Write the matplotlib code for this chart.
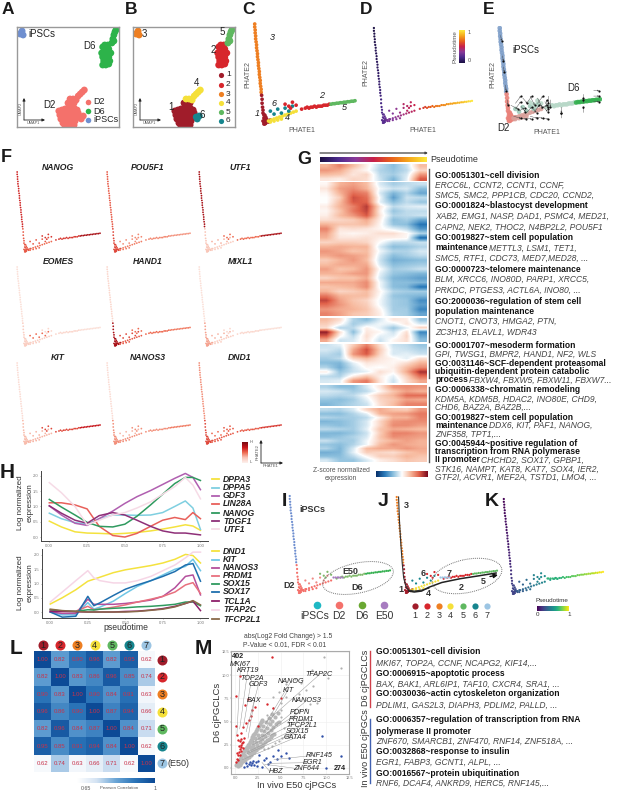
import numpy as np
import matplotlib
matplotlib.use("Agg")
import matplotlib.pyplot as plt
from matplotlib.colors import LinearSegmentedColormap
from matplotlib.patches import Ellipse

plt.rcParams["font.family"] = ["Liberation Sans", "DejaVu Sans"]
W, H = 617, 791

# --- UMAP cells (A, B) ---
umap_x = [4, 5, 3, 6,
          41, 44, 47, 50, 53, 56, 59, 42, 45, 48, 51, 54, 57, 60, 43, 46, 49, 52, 55, 58, 61, 45, 48, 51, 54, 57, 47, 50, 53, 56, 50, 53, 56,
          52, 55, 58, 60, 62, 64, 66,
          62, 65, 63,
          84, 87, 90, 83, 86, 89, 92, 84, 87, 90, 85, 88, 91, 86, 89, 84, 87, 90,
          94, 95, 96, 97, 93, 95,
          ]
umap_y = [94, 96, 93, 92,
          16, 17, 18, 19, 19, 19, 17, 12, 12, 13, 14, 13, 13, 14, 8, 8, 8, 9, 8, 9, 10, 4, 4, 5, 5, 6, 1, 1, 2, 2, 24, 25, 24,
          28, 28, 27, 31, 33, 35, 37,
          10, 11, 8,
          80, 80, 78, 74, 74, 74, 74, 70, 70, 70, 66, 66, 66, 82, 82, 62, 62, 63,
          88, 92, 95, 97, 84, 86,
          ]
umap_day = ["iPSCs"] * 4 + ["D2"] * 33 + ["D2"] * 7 + ["D2"] * 3 + ["D6"] * 18 + ["D6"] * 6
umap_cluster = [3] * 4 + [1] * 33 + [4] * 7 + [6] * 3 + [2] * 18 + [5] * 6

# --- PHATE cells (C, D, E, F, I, J, K) ---
phate_x = [-9, -9, -8.5, -8.5, -8, -8, -7.5, -7, -7, -6.5, -6, -6, -5.5, -5, -5, -4.5, -4, -4, -3.5, -3, -3, -2.5, -2, -2,
           -1.5, -1, -1, -.5, 0, 0, 1, 1, 2, 2, 3, 3, 4, 0, 1, 2, 3, 4, 5, 1, 2, 3, 6, 8,
           6, 9, 12, 15, 18, 21, 24, 27, 30, 33, 36, 8, 12, 16, 20,
           8, 12, 16, 20, 24, 28, 32,
           24, 28, 32, 30, 36, 42, 46, 48, 50, 52, 54, 56, 58, 60, 62, 64, 66, 68, 70, 72,
           74, 76, 78, 80, 82, 84, 86, 88, 90, 92, 94, 96, 98, 100]
phate_y = [100, 97, 94, 91, 88, 85, 82, 79, 76, 73, 70, 67, 64, 61, 58, 55, 52, 49, 46, 43, 40, 37, 34, 31,
           28, 24, 20, 16, 13, 10, 8, 5, 8, 4, 6, 2, 4, 2, 1, 1, 0, 2, 2, -1, -1, 0, 1, 3,
           2, 3, 4, 5, 6, 7, 8, 9, 10, 11, 12, 1, 2, 3, 4,
           12, 9, 14, 10, 15, 12, 17,
           19, 17, 21, 15, 18, 14, 15, 16, 15, 16, 16, 17, 16, 17, 17, 17, 18, 18, 18, 19,
           19, 19.5, 19.5, 20, 20, 20.5, 20.5, 21, 21, 21.5, 21.5, 22, 22, 22.5]
phate_cluster = [3] * 24 + [1] * 24 + [4] * 15 + [6] * 7 + [2] * 20 + [5] * 14
phate_time = [.0, .0, .01, .01, .02, .02, .03, .03, .04, .04, .05, .05, .06, .06, .07, .07, .08, .08, .09, .09, .1, .1, .11, .12,
              .13, .14, .15, .16, .17, .18, .2, .2, .2, .2, .22, .22, .22, .2, .2, .2, .2, .22, .25, .2, .2, .2, .25, .28,
              .3, .32, .33, .35, .36, .38, .4, .42, .44, .45, .47, .28, .3, .33, .36,
              .3, .32, .35, .38, .42, .45, .48,
              .45, .45, .47, .47, .5, .55, .58, .6, .62, .64, .66, .68, .7, .71, .72, .74, .75, .76, .77, .78,
              .8, .81, .82, .83, .85, .86, .87, .88, .9, .92, .94, .96, .98, 1.0]
e50_x = [38, 40, 42, 44, 46, 48]
e50_y = [15.5, 15.5, 15.5, 15.5, 15.5, 15.5]

# --- E velocity arrows ---
vel_x = [-8, -6, -5, -3, -1, 3, 8, 12, 16, 20, 24, 28, 32, 36, 40, 6, 12, 18, 24, 30, 36, 42, 46, 58, 58, 82, 82, 82, 93, 93, 93, 44, 44, 8, 14, 20, 26, 32, 38]
vel_y = [92, 70, 58, 38, 22, 16, 18, 10, 24, 8, 26, 8, 24, 12, 20, 4, 2, 2, 4, 3, 2, 14, 22, 14, 2, 28, 18, 8, 32, 26, 20, 26, 8, 12, 15, 18, 14, 18, 15]
vel_dx = [1, 1, 1, 1, 1, 8, 6, 6, 5, 6, 5, 6, 5, 6, 4, 8, 8, 8, 8, 8, 8, 0, 0, 0, 0, 0, 0, 0, 6, 6, 6, 0, 0, 6, 5, 6, 5, 6, 5]
vel_dy = [-6, -6, -6, -6, -6, -4, 8, 3, -6, 6, -10, 8, -10, 4, -8, -2, -1, -1, -2, -1, -1, 8, -8, -6, 6, -6, 6, 6, 0, 0, 0, -8, 6, 8, -6, 8, -6, 8, -6]

# --- F cluster mean expression (cluster 1..6) ---
f_genes = ["NANOG", "POU5F1", "UTF1", "EOMES", "HAND1", "MIXL1", "KIT", "NANOS3", "DND1"]
f_levels = [[.55, .65, .7, .5, .85, .55],
            [.6, .42, .55, .45, .38, .4],
            [.25, .5, .85, .2, .85, .3],
            [.2, .15, .1, .2, .1, .5],
            [.85, .5, .15, .55, .45, .6],
            [.35, .15, .1, .2, .1, .3],
            [.28, .6, .12, .3, .75, .3],
            [.4, .4, .12, .4, .45, .3],
            [.6, .55, .4, .55, .65, .5]]

# --- G heatmap blocks ---
g_block_a = [[.9, 1.4, .8, .2, -.5, -.9, -.4, .8],
             [1.2, 1.0, .4, .1, -.6, -.8, -.5, .5],
             [.8, .7, .3, .5, -.5, -.7, -.3, 1.2],
             [.3, .2, .5, .4, -.4, -1.0, -.2, 1.8]]
g_block_b = [[.1, .9, 1.1, .8, -.3, -.7, -.5, -.4],
             [.3, 1.1, 1.3, .9, -.1, -.4, -.3, -.9],
             [.1, .9, 1.6, 1.4, -.3, -1.0, -.6, -1.2],
             [.0, .6, 1.9, 1.6, -.1, -1.3, -.4, -.5],
             [.0, .8, 1.8, 1.7, -.2, -.9, -.5, -.8],
             [.2, .9, 1.4, 2.1, .3, -.5, -.3, -.2],
             [.1, .7, 1.5, 2.0, .2, -.8, -.5, -.5],
             [.2, .8, 1.2, 1.8, .3, -.6, -.5, -.4],
             [.4, .5, .6, 1.0, .2, -.9, -.7, -1.2],
             [.9, .7, .7, .8, .1, -.8, -.9, -1.8],
             [1.4, .3, .4, .3, .1, -.2, -.5, -1.4],
             [1.1, .2, .1, .2, .4, .4, .1, -.6],
             [.9, .3, .3, .4, .2, .2, .1, -1.9],
             [.5, .6, .6, .5, .0, -.5, -.5, -.4],
             [.9, 1.0, .9, .9, -.3, -.9, -.8, -.6],
             [1.2, 1.0, .7, .8, -.1, -.6, -.6, -.3],
             [1.0, 1.2, 1.1, .9, -.3, -.9, -.7, -.5],
             [.6, .9, 1.2, .8, -.4, -1.1, -1.0, -.9],
             [.8, 1.0, 1.0, 1.0, -.3, -.9, -.8, -.7],
             [1.1, .7, .8, 1.2, .0, -.7, -.6, -.4],
             [.9, .9, 1.1, 1.2, -.2, -.8, -.9, -1.0],
             [.5, .7, .7, 1.0, -.3, -1.0, -1.1, -1.3],
             [1.0, 1.0, 1.0, 1.3, -.1, -.9, -.9, -1.0],
             [.7, .8, .9, 1.3, -.1, -.9, -1.0, -1.8],
             [.9, .5, .6, .8, .1, -.6, -.7, -.7],
             [1.5, .9, .8, .8, .0, -.8, -.9, -1.0],
             [2.0, 1.1, .7, .5, -.1, -.7, -.8, -1.5],
             [1.6, 1.2, .8, .6, -.1, -.7, -.8, -1.3],
             [1.2, 1.0, .9, .7, .1, -.7, -.7, -1.6],
             [1.4, 1.1, .7, .6, .2, -.6, -.7, -1.2]]
g_block_c = [[.8, .4, -.6, -.9, -.3, .3, .2, -.8],
             [.6, .1, -.7, -.4, -.1, -.2, .3, -.3],
             [.4, -.6, -.5, .2, -.2, -.8, -.2, .6],
             [2.4, .4, -.9, .3, .1, -.4, .4, -1.6],
             [1.8, .1, -.5, .4, -.2, -.2, .5, -1.2],
             [1.0, -.4, -.3, .3, -.4, .1, .4, -.9]]
g_block_d = [[-.4, -.2, .6, 1.4, .4, -.4, -.5, -.8],
             [-.3, -.5, 1.0, 1.9, .6, -.3, -.4, -.6],
             [-.5, -.7, 1.2, 1.8, .5, -.3, -.2, -.4],
             [-.7, -.5, .5, .8, .3, .1, -.2, .4],
             [-.9, -1.0, -.2, .3, .2, .1, .4, .9],
             [-.6, -1.1, -.4, .1, .0, .2, .8, 1.3],
             [.2, -.8, -.4, -.2, .4, .1, 1.0, 2.2],
             [-.5, -.6, .2, .7, .2, -.2, .6, 1.6],
             [-.3, -.2, 1.2, 1.5, .3, -.4, .4, 1.0]]
g_block_e = [[-.6, -.9, -.9, -.3, .3, 1.2, 1.3, 1.2],
             [-.3, -.4, -.7, -.5, .1, .7, 1.1, .9],
             [-.5, -.6, -.5, .0, .6, .9, 1.6, 1.6],
             [-.8, -.9, -.7, -.2, .5, .7, 1.1, 1.0],
             [-1.0, -.8, -.6, -.4, .4, .8, 1.4, 1.4]]
g_block_f = [[-.5, -.6, -.3, .5, 1.0, .7, .6, 1.2],
             [-.9, -.9, -.6, -.2, .9, 1.1, 1.2, 1.5],
             [-.6, -.7, -.7, -.5, .2, .9, .9, 1.4],
             [-1.0, -.9, -.7, -.3, .5, 1.2, 1.3, 1.3],
             [-.8, -.9, -.7, -.3, .5, 1.3, 1.3, 1.1],
             [-.5, -.6, -.7, -.2, .7, 1.0, .9, .8],
             [-1.0, -1.0, -.8, -.4, .6, 1.4, 1.4, 1.2],
             [-.9, -.8, -.6, -.3, .7, 1.3, 1.2, 1.1],
             [-.4, -.7, -.7, -.1, .6, .9, 1.1, .9],
             [-.8, -.9, -.6, -.1, .8, 1.2, 1.0, .9],
             [-.6, -1.0, -.3, .8, 1.0, 1.0, 1.2, 1.0],
             [-1.1, -1.0, -.2, .6, .5, .4, .7, .9],
             [-.9, -.9, -.5, .1, .6, .6, .9, .7],
             [-.3, -.8, -.8, -.3, .2, .4, .7, .6]]

# --- H curves ---
h1_t = [0, .08, .17, .25, .33, .42, .5, .58, .67, .75, .83, .9, .95, 1]
h1_names = ["DPPA3", "DPPA5", "GDF3", "LIN28A", "NANOG", "TDGF1", "UTF1"]
h1_values = [[.52, .33, .17, .13, .12, .10, .12, .15, .2, .26, .33, .40, .36, .22],
             [.78, .6, .47, .42, .6, .72, .72, .71, .72, .8, 1.0, 1.18, .95, .25],
             [1.02, .72, .45, .38, .6, .85, 1.1, 1.32, 1.52, 1.72, 1.92, 2.08, 1.95, 1.55],
             [1.12, 1.12, 1.05, .92, .35, .05, .0, .12, .35, .55, .64, .57, .80, .6],
             [1.23, .98, .72, .48, .35, .33, .42, .68, 1.05, 1.4, 1.75, 1.95, 1.95, 1.85],
             [1.02, .78, .55, .45, .7, .8, .72, .55, .35, .2, .13, .13, .1, .07],
             [1.78, 1.45, 1.0, .4, .55, .72, .8, .95, 1.15, 1.4, 1.65, 1.95, 1.7, 1.25]]
h1_colors = ["#f4e23e", "#7fcfe0", "#b05fb0", "#e8605a", "#2f9a5f", "#8e2f78", "#f6dbe6"]
h2_t = [0, .08, .17, .25, .29, .33, .42, .5, .58, .67, .75, .83, .9, .95, 1]
h2_names = ["DND1", "KIT", "NANOS3", "PRDM1", "SOX15", "SOX17", "TCL1A", "TFAP2C", "TFCP2L1"]
h2_values = [[.28, .5, .78, 1.08, 1.15, 1.22, 1.38, 1.48, 1.55, 1.63, 1.72, 1.85, 2.02, 1.98, 1.72],
             [.0, -.1, -.1, .33, .1, .17, .38, .65, .9, 1.1, 1.3, 1.5, 1.6, 1.85, 1.45],
             [.0, -.05, -.05, .45, .27, .27, .27, .3, .35, .42, .55, .85, 1.25, 1.3, .6],
             [.05, .02, .03, .2, .08, .1, .17, .25, .35, .45, .55, .7, .95, 1.03, .65],
             [.08, .03, .02, .08, .07, .1, .13, .15, .18, .2, .23, .27, .35, .35, .22],
             [.0, -.18, -.15, .55, .22, .32, .58, .8, .95, 1.1, 1.25, 1.42, 1.65, 1.7, 1.08],
             [.02, .02, .01, .0, .0, .0, .0, .02, .03, .07, .12, .2, .3, .38, .05],
             [.35, .7, 1.1, 1.45, 1.2, 1.1, 1.02, 1.02, 1.1, 1.25, 1.45, 1.65, 1.9, 2.1, 2.1],
             [.1, .05, .02, .0, .0, .0, .0, .0, .02, .06, .1, .18, .3, .4, .25]]
h2_colors = ["#f4e23e", "#6fc6e6", "#b44f9c", "#e8707e", "#2f9a5f", "#1f6fae", "#8e1f6a", "#f6d6e6", "#8a6a4a"]

# --- L correlations ---
l_values = [[1.00, .82, .90, .96, .82, .95, .62],
            [.82, 1.00, .83, .86, .96, .85, .74],
            [.90, .83, 1.00, .90, .84, .91, .63],
            [.96, .86, .90, 1.00, .87, .94, .66],
            [.82, .96, .84, .87, 1.00, .84, .71],
            [.95, .85, .91, .94, .84, 1.00, .62],
            [.62, .74, .63, .66, .71, .62, 1.00]]
cluster_colors = ["#a01c2a", "#d7262c", "#ee7f22", "#f5e03a", "#5fb860", "#16858e", "#9cc5e3"]

# --- M scatter ---
dense_x = [.1, .2, .3, .4, .5, .6, .7, .8, .9, 1.0, 1.1, 1.2, 1.3, 1.4, 1.5, 1.6, 1.7, 1.8, 1.9, 2.0, 2.1, 2.2, 2.3, 2.4, 2.5, 2.6, 2.7, 2.8, 2.9, 3.0,
           .3, .5, .7, .9, 1.1, 1.3, 1.5, 1.7, 1.9, 2.1, 2.3, 2.5, 2.7, 2.9, 3.1, 3.3, 3.5, 3.7, 3.9, 4.1, 4.3,
           .5, .8, 1.1, 1.4, 1.7, 2.0, 2.3, 2.6, 2.9, 3.2, 3.5, 3.8, 4.1, 4.4, 4.7,
           .4, .7, 1.0, 1.3, 1.6, 1.9, 2.2, 2.5, 2.8, 3.1, 3.4, 3.7, 4.0,
           .6, .9, 1.2, 1.5, 1.8, 2.1, 2.4, 2.7, 3.0, 3.3, 3.6, 3.9, 4.2, 4.5, 4.8]
dense_y = [.3, .4, .6, .8, 1.0, 1.1, 1.3, 1.4, 1.6, 1.8, 2.0, 2.1, 2.3, 2.5, 2.6, 2.8, 3.0, 3.1, 3.3, 3.5, 3.7, 3.8, 4.0, 4.2, 4.4, 4.5, 4.7, 4.9, 5.1, 5.2,
           .2, .3, .5, .7, .9, 1.1, 1.2, 1.4, 1.6, 1.7, 1.9, 2.1, 2.3, 2.4, 2.6, 2.8, 3.0, 3.1, 3.3, 3.5, 3.7,
           .5, .9, 1.3, 1.7, 2.1, 2.5, 2.8, 3.2, 3.6, 4.0, 4.3, 4.7, 5.1, 5.5, 5.9,
           .5, .9, 1.4, 1.9, 2.3, 2.8, 3.2, 3.6, 4.1, 4.5, 5.0, 5.4, 5.8,
           .6, .9, 1.2, 1.6, 1.9, 2.2, 2.5, 2.8, 3.1, 3.4, 3.8, 4.1, 4.4, 4.7, 5.0]
sparse_x = [5.0, 3.2, 3.6, 4.0, 4.4, 4.8, 5.2, 5.6, 6.0, 3.5, 4.2, 4.6, 5.0, 5.4, 5.8, 6.2, 6.6, 7.0, 7.4, 7.8, 8.2, 5.0, 5.6, 6.4, 7.0, 7.8, 8.6, 9.0, 9.6,
            4.2, 4.8, 5.6, 6.6, 7.2, 8.4, 9.8, 10.2, 11.6, 8.0]
sparse_y = [6.2, 2.0, 2.2, 2.4, 2.7, 2.9, 3.2, 3.4, 3.7, 5.7, 6.5, 5.0, 5.5, 4.3, 5.0, 5.4, 5.9, 6.2, 5.2, 6.3, 6.9, 7.0, 7.6, 7.4, 8.0, 8.4, 8.8, 7.0, 10.2,
            7.6, 8.2, 9.0, 9.6, 9.2, 10.6, 11.9, 9.7, 10.8, 4.9]
red_x = [.1, .2, .3, .4, .5, .6, .7, .8, .2, .4, .5, .7, .9, 1.0, .3, .5, .7, .9, .1, .2, .3, .6, .9, 1.2, 1.5, 1.7, 1.9, 2.2, 2.5, 1.1, 1.4, 3.5, 4.2, 5.0, 4.1, .1, .5]
red_y = [.6, 1.0, 1.4, 1.7, 2.0, 2.3, 2.5, 2.7, 1.6, 2.4, 2.9, 3.1, 2.8, 3.2, .9, 1.4, 1.8, 2.2, 4.5, 3.6, 3.0, 3.8, 4.4, 4.8, 5.2, 5.6, 6.2, 6.6, 4.5, 6.8, 7.4, 6.9, 6.5, 7.5, 12.0, 7.8, 9.9]
blue_x = [1.0, 1.3, 1.5, 1.7, 1.9, 2.1, 2.3, 2.5, 1.2, 1.6, 2.0, 2.4, 3.2, 3.6, 4.2, 4.6, 5.0, 5.6, 5.9, 2.9, 3.8, 4.7, 9.5, 11.6, 10.0, 3.4, 2.6]
blue_y = [.1, .2, .4, .3, .5, .3, .6, .7, .5, .6, .8, .2, .9, .4, 1.3, 1.0, 1.3, 1.6, 1.1, .1, .6, 1.9, 3.4, 1.3, .0, 1.1, 1.4]
m_genes = ["MKI67", "KRT19", "TOP2A", "GDF3", "BAX", "NANOG", "KIT", "TFAP2C", "NANOS3", "PDPN", "PRDM1", "TFCP2L1", "SOX15", "GATA4", "RNF145", "EGR1", "ZNF644", "HBZ"]
m_gene_x = [.2, .5, .9, 1.2, 1.4, 3.3, 3.1, 3.4, 2.9, 2.0, 1.9, 1.3, 1.2, .8, 4.2, 3.6, 3.2, 2.9]
m_gene_y = [3.6, 4.2, 4.4, 3.9, 3.2, 4.8, 3.9, 5.0, 3.3, 2.8, 2.5, 1.7, 1.5, .9, .9, .5, .4, .6]

fig = plt.figure(figsize=(W / 100, H / 100), dpi=100)
page = fig.add_axes([0, 0, 1, 1], zorder=10)
page.set_xlim(0, W); page.set_ylim(H, 0); page.axis("off"); page.patch.set_alpha(0)


def box(x0, y0, x1, y1, **kw):
    return fig.add_axes([x0 / W, 1 - y1 / H, (x1 - x0) / W, (y1 - y0) / H], **kw)


def t(x, y, s, size=6, ha="left", va="center", color="#222222", **kw):
    return page.text(x, y, s, fontsize=size, ha=ha, va=va, color=color, **kw)


def letter(x, y, s, size=15):
    t(x, y, s, size=size, weight="bold", color="#1a1a1a")


def arrow(x0, y0, x1, y1, color="#222222", lw=.6, ms=4):
    page.annotate("", xy=(x1, y1), xytext=(x0, y0),
                  arrowprops=dict(arrowstyle="-|>", color=color, lw=lw, mutation_scale=ms, shrinkA=0, shrinkB=0))


def phate_ax(cx, cy, rx, ty):
    # cx,cy = pixel of the corner (0,0); rx = pixel of x=100; ty = pixel of y=100
    sx = (rx - cx) / 100.0
    sy = (cy - ty) / 100.0
    ax = box(cx - 12 * sx, ty - 2, rx + 2, cy + 5)
    ax.set_xlim(-12, 100 + 2 / sx)
    ax.set_ylim(-5 / sy, 100 + 2 / sy)
    ax.axis("off")
    return ax


px = np.array(phate_x); py = np.array(phate_y); pc = np.array(phate_cluster); pt = np.array(phate_time)

# A, B
ux = np.array(umap_x); uy = np.array(umap_y)
day_colors = {"D2": "#f4716b", "D6": "#2db34a", "iPSCs": "#6f8fd0"}
for ax_box, colors in (((17, 27, 119, 127), [day_colors[d] for d in umap_day]),
                       ((133, 27, 235, 127), [cluster_colors[c - 1] for c in umap_cluster])):
    ax = box(*ax_box)
    ax.scatter(ux, uy, c=colors, s=24, lw=0)
    ax.set_xlim(0, 100); ax.set_ylim(0, 100); ax.set_xticks([]); ax.set_yticks([])
    for sp in ax.spines.values():
        sp.set_color("#999999"); sp.set_linewidth(1)
letter(2, 10, "A", 12.5); letter(125, 10, "B", 12.5); letter(242, 10, "C", 12.5); letter(360, 10, "D", 12.5); letter(483, 10, "E", 12.5)
t(28, 34, "iPSCs", 7); t(89, 46, "D6", 7, ha="center"); t(49, 105, "D2", 7, ha="center")
for y, name in zip((102, 111, 120), ("D2", "D6", "iPSCs")):
    page.scatter([88], [y], s=16, color=day_colors[name], lw=0)
    t(93, y, name, 6.5)
t(144, 34, "3", 7, ha="center"); t(222, 32, "5", 7, ha="center"); t(213, 50, "2", 7, ha="center")
t(197, 83, "4", 7, ha="center"); t(171, 107, "1", 7, ha="center"); t(202, 115, "6", 7, ha="center")
for i, y in enumerate((75, 85, 94, 103, 112, 121)):
    page.scatter([221], [y], s=14, color=cluster_colors[i], lw=0)
    t(226, y, str(i + 1), 6)
for x0 in (24, 140):
    arrow(x0, 120, x0, 98); arrow(x0, 120, x0 + 21, 120)
    t(x0 - 3, 108, "UMAP2", 2.8, ha="center", rotation=90, color="#555555")
    t(x0 + 9, 123, "UMAP1", 2.8, ha="center", color="#555555")

# C
ax = phate_ax(263, 123, 355, 24)
ax.scatter(px, py, c=[cluster_colors[c - 1] for c in pc], s=7, lw=0)
t(272, 38, "3", 6.5, style="italic", ha="center"); t(274, 103, "6", 6.5, style="italic", ha="center")
t(257, 114, "1", 6.5, style="italic", ha="center"); t(287, 118, "4", 6.5, style="italic", ha="center")
t(322, 95, "2", 6.5, style="italic", ha="center"); t(344, 108, "5", 6.5, style="italic", ha="center")
t(248, 75, "PHATE2", 5, ha="center", rotation=90, color="#555555"); t(302, 131, "PHATE1", 5, ha="center", color="#555555")

# D
pseudo_cmap = LinearSegmentedColormap.from_list("pseudo", ["#1c1044", "#4b2a8c", "#8a3a9a", "#c8204a", "#e8601c", "#f5a81c", "#fde83c"])
ax = phate_ax(382, 122, 472, 28)
ax.scatter(px, py, c=pt, cmap=pseudo_cmap, vmin=0, vmax=1, s=2.6, lw=0)
cb = box(459, 30, 465, 63)
cb.imshow(np.linspace(1, 0, 50).reshape(-1, 1), cmap=pseudo_cmap, aspect="auto"); cb.axis("off")
t(455, 47, "Pseudotime", 4.5, ha="center", rotation=90, color="#555555")
t(468, 32, "1", 4, color="#555555"); t(468, 60, "0", 4, color="#555555")
t(366, 72, "PHATE2", 5, ha="center", rotation=90, color="#555555"); t(423, 131, "PHATE1", 5, ha="center", color="#555555")

# E
e_colors = {1: "#e9827a", 2: "#b8d8c8", 3: "#7f9fc9", 4: "#d9a09a", 5: "#35b050", 6: "#9fc9b8"}
ax = phate_ax(508, 120, 600, 28)
ax.scatter(px, py, c=[e_colors[c] for c in pc], s=11, lw=0, alpha=.9)
ax.quiver(vel_x, vel_y, vel_dx, vel_dy, angles="xy", scale_units="xy", scale=1, color="#444444", width=.004, headwidth=4, headlength=4)
ax.scatter(np.array(vel_x) + np.array(vel_dx), np.array(vel_y) + np.array(vel_dy), s=2.5, color="#111111", lw=0)
t(526, 50, "iPSCs", 7, ha="center"); t(573, 88, "D6", 7, ha="center"); t(503, 128, "D2", 7, ha="center")
t(493, 75, "PHATE2", 5, ha="center", rotation=90, color="#555555"); t(547, 132, "PHATE1", 5, ha="center", color="#555555")

# F
letter(1, 158, "F", 13)
expr_cmap = LinearSegmentedColormap.from_list("expr", ["#fdf0ec", "#f9c6b8", "#ee6a50", "#c8151b", "#7a0a12"])
f_corner_x = (24, 114, 206); f_right_x = (100, 190, 281)
f_corner_y = (251, 345, 443); f_top_y = (172, 267, 363)
f_title_x = (58, 148, 240); f_title_y = (167, 261, 358)
for i, gene in enumerate(f_genes):
    r, c = i // 3, i % 3
    ax = phate_ax(f_corner_x[c], f_corner_y[r], f_right_x[c], f_top_y[r])
    levels = np.array(f_levels[i])[pc - 1]
    order = np.argsort(levels)
    ax.scatter(px[order], py[order], c=levels[order], cmap=expr_cmap, vmin=0, vmax=1, s=1.6, lw=0)
    t(f_title_x[c], f_title_y[r], gene, 6.2, ha="center", weight="bold", style="italic")
cb = box(242, 442, 248, 463)
cb.imshow(np.linspace(1, 0, 50).reshape(-1, 1), cmap=expr_cmap, aspect="auto"); cb.axis("off")
t(250, 442, "H", 3, color="#555555"); t(250, 462, "L", 3, color="#555555")
arrow(261, 463, 261, 440); arrow(261, 463, 283, 463)
t(258, 452, "PHATE2", 3, ha="center", rotation=90, color="#555555")
t(271, 466, "PHATE1", 3, ha="center", color="#555555")

# G
letter(297, 159, "G", 13)
arrow(320, 153, 428, 153, color="#444444", lw=.9, ms=3)
ax = box(320, 157, 427, 162)
ax.imshow(np.linspace(0, 1, 200).reshape(1, -1), cmap=pseudo_cmap, aspect="auto"); ax.axis("off")
t(430, 160, "Pseudotime", 6.5, color="#333333")
z_cmap = LinearSegmentedColormap.from_list("z", ["#08306b", "#2b7bba", "#8fc1de", "#ffffff", "#f7b89c", "#e0614a", "#7a0a1e"])
blocks = [(g_block_a, 164, 181), (g_block_b, 182, 316), (g_block_c, 318, 342),
          (g_block_d, 344, 383), (g_block_e, 385, 406), (g_block_f, 408, 462)]
for rows, y0, y1 in blocks:
    ax = box(320, y0, 427, y1)
    ax.imshow(rows, cmap=z_cmap, vmin=-2.6, vmax=2.6, aspect="auto", interpolation="bilinear"); ax.axis("off")
for y0, y1 in ((169, 342), (347, 378), (387, 462)):
    page.plot([429, 429], [y0, y1], color="#555555", lw=1)
cb = box(376, 471, 427, 477)
cb.imshow(np.linspace(-1, 1, 100).reshape(1, -1), cmap=z_cmap, aspect="auto"); cb.axis("off")
t(341, 470, "Z-score normalized", 4.8, ha="center", color="#555555")
t(341, 478, "expression", 4.8, ha="center", color="#555555")

renderer = fig.canvas.get_renderer()


def go(x, y, *parts, size=6.15):
    # "b:" parts are bold, the others italic
    for part in parts:
        bold = part.startswith("b:")
        s = part[2:] if bold else part
        txt = t(x, y, s, size, weight="bold" if bold else "normal", style="normal" if bold else "italic",
                color="#111111" if bold else "#444444")
        x += (txt.get_window_extent(renderer).width + (1.6 if bold else 0))


g_lines = [(175, ["b:GO:0051301~cell division"]),
           (185, ["ERCC6L, CCNT2, CCNT1, CCNF,"]),
           (195, ["SMC5, SMC2, PPP1CB, CDC20, CCND2,"]),
           (206, ["b:GO:0001824~blastocyst development"]),
           (216, ["XAB2, EMG1, NASP, DAD1, PSMC4, MED21,"]),
           (227, ["CAPN2, NEK2, THOC2, N4BP2L2, POU5F1"]),
           (237, ["b:GO:0019827~stem cell population"]),
           (248, ["b:maintenance", "METTL3, LSM1, TET1,"]),
           (258, ["SMC5, RTF1, CDC73, MED7,MED28, ..."]),
           (269, ["b:GO:0000723~telomere maintenance"]),
           (279, ["BLM, XRCC6, INO80D, PARP1, XRCC5,"]),
           (290, ["PRKDC, PTGES3, ACTL6A, INO80, ..."]),
           (301, ["b:GO:2000036~regulation of stem cell"]),
           (311, ["b:population maintenance"]),
           (321, ["CNOT1, CNOT3, HMGA2, PTN,"]),
           (332, ["ZC3H13, ELAVL1, WDR43"]),
           (345, ["b:GO:0001707~mesoderm formation"]),
           (354, ["GPI, TWSG1, BMPR2, HAND1, NF2, WLS"]),
           (363, ["b:GO:0031146~SCF-dependent proteasomal"]),
           (372, ["b:ubiquitin-dependent protein catabolic"]),
           (380, ["b:process", "FBXW4, FBXW5, FBXW11, FBXW7..."]),
           (390, ["b:GO:0006338~chromatin remodeling"]),
           (399, ["KDM5A, KDM5B, HDAC2, INO80E, CHD9,"]),
           (407, ["CHD6, BAZ2A, BAZ2B,..."]),
           (417, ["b:GO:0019827~stem cell population"]),
           (425, ["b:maintenance", "DDX6, KIT, PAF1, NANOG,"]),
           (434, ["ZNF358, TPT1,..."]),
           (443, ["b:GO:0045944~positive regulation of"]),
           (451, ["b:transcription from RNA polymerase"]),
           (460, ["b:II promoter", "CHCHD2, SOX17, GPBP1,"]),
           (469, ["STK16, NAMPT, KAT8, KAT7, SOX4, IER2,"]),
           (477, ["GTF2I, ACVR1, MEF2A, TSTD1, LMO4, ..."])]
for y, parts in g_lines:
    go(435, y, *parts)

# H
letter(0, 473, "H", 15)
for vals, colors, tt, bx, ylim in ((h1_values, h1_colors, h1_t, (41, 471, 208, 541), (-.13, 2.16)),
                                   (h2_values, h2_colors, h2_t, (42, 549, 208, 618), (-.21, 2.21))):
    ax = box(*bx)
    for row, col in zip(vals, colors):
        ax.plot(tt, row, color=col, lw=1.1, solid_joinstyle="round")
    ax.set_xlim(-.055, 1.05); ax.set_ylim(*ylim)
    ax.set_xticks([0, .25, .5, .75, 1]); ax.set_xticklabels(["0.00", "0.25", "0.50", "0.75", "1.00"])
    ax.set_yticks([0, .5, 1, 1.5, 2]); ax.set_yticklabels(["0.0", "0.5", "1.0", "1.5", "2.0"])
    ax.tick_params(labelsize=3, length=1, width=.4, pad=1, colors="#777777")
    for sp in ("top", "right"):
        ax.spines[sp].set_visible(False)
    for sp in ("left", "bottom"):
        ax.spines[sp].set_color("#444444"); ax.spines[sp].set_linewidth(.7)
for yc in (503, 583):
    t(21, yc, "Log normalized", 5.8, ha="center", rotation=90, color="#333333")
    t(30, yc, "expression", 5.8, ha="center", rotation=90, color="#333333")
t(126, 628, "pseudotime", 6.2, ha="center", color="#333333")
for y, name, col in zip((479, 488, 496, 504, 513, 521, 529), h1_names, h1_colors):
    page.plot([212, 219], [y, y], color=col, lw=1.3)
    t(223, y, name, 6.2, weight="bold", style="italic")
for y, name, col in zip((551, 560, 568, 576, 584, 592, 601, 610, 619), h2_names, h2_colors):
    page.plot([212, 219], [y, y], color=col, lw=1.3)
    t(223, y, name, 6.2, weight="bold", style="italic")

# I
day_map = {1: "#f4716b", 2: "#7fb86a", 3: "#6f8fd0", 4: "#f4716b", 5: "#35b050", 6: "#f08a85"}
ax = phate_ax(298, 592, 390, 496)
ax.scatter(px, py, c=[day_map[c] for c in pc], s=2.5, lw=0)
ax.scatter(e50_x, e50_y, color="#a77cc0", s=2.5, lw=0)
page.add_patch(Ellipse((358, 578), 72, 30, angle=-12, fill=False, ec="#777777", lw=.7, ls=(0, (1, 1))))
letter(282, 502, "I", 14)
t(312, 509, "iPSCs", 6.5, weight="bold", ha="center", color="#333333")
t(350, 572, "E50", 6.5, weight="bold", ha="center", color="#333333")
t(357, 588, "D6", 6.5, weight="bold", ha="center", color="#333333")
t(289, 585, "D2", 6.5, weight="bold", ha="center", color="#333333")
for x, col, name in zip((317, 339, 362, 384), ("#1fb8c4", "#f4716b", "#6aa832", "#a77cc0"), ("iPSCs", "D2", "D6", "E50")):
    page.scatter([x], [605], s=30, color=col, lw=0)
    t(x - 2 if name == "iPSCs" else x, 616, name, 7.5, ha="center", color="#333333")

# J
ax = phate_ax(405, 592, 497, 497)
ax.scatter(px, py, c=[cluster_colors[c - 1] for c in pc], s=2.5, lw=0)
ax.scatter(e50_x, e50_y, color=cluster_colors[6], s=2.5, lw=0)
j_curve_x = [-7, -6, -4.5, -3, -1.5, 1, 4, 10, 18, 26]
j_curve_y = [100, 75, 50, 30, 15, 6, 2, 1, 2, 4]
ax.plot(j_curve_x, j_curve_y, color="#333333", lw=.8)
j_arrow_x = [4, 10, 18, 26, 40, 60, 80, 99]
j_arrow_y = [1, 0, 1, 5, 10, 14, 17, 20]
ax.plot(j_arrow_x, j_arrow_y, color="#222222", lw=1.1)
arrow(490, 576.5, 498, 575, color="#111111", lw=1, ms=6)
page.add_patch(Ellipse((467, 576), 71, 33, angle=-12, fill=False, ec="#777777", lw=.7, ls=(0, (1, 1))))
letter(378, 502, "J", 14)
for x, y, s in ((406, 506, "3"), (401, 590, "1"), (423, 574, "6"), (449, 574, "7"), (428, 593, "4"), (461, 587, "2"), (483, 582, "5")):
    t(x, y, s, 6.5, weight="bold", ha="center", color="#333333")
for i, x in enumerate((415, 427, 439, 450, 463, 475, 487)):
    page.scatter([x], [606], s=20, color=cluster_colors[i], lw=0)
    t(x, 615, str(i + 1), 6.5, ha="center", color="#333333")

# K
ax = phate_ax(512, 593, 603, 499)
ax.scatter(px, py, c=pt, cmap="viridis", vmin=0, vmax=1, s=2.5, lw=0)
ax.scatter(e50_x, e50_y, color="#35b779", s=2.5, lw=0)
letter(485, 502, "K", 14)
cb = box(537, 606, 569, 611)
cb.imshow(np.linspace(0, 1, 100).reshape(1, -1), cmap="viridis", aspect="auto"); cb.axis("off")
t(552, 601, "Pseudotime", 4.5, ha="center", color="#333333")
t(537, 615, "0", 4.5, ha="center", color="#333333"); t(569, 615, "1", 4.5, ha="center", color="#333333")

# L
letter(10, 648, "L", 15)
l_cmap = LinearSegmentedColormap.from_list("l", ["#ffffff", "#d4e3f3", "#6aa5d6", "#2b74b8", "#0c4a96"])
ax = box(34, 651, 155, 772)
ax.imshow(l_values, cmap=l_cmap, vmin=.6, vmax=1, aspect="auto", interpolation="nearest")
for r, row in enumerate(l_values):
    for c, v in enumerate(row):
        ax.text(c, r, f"{v:.2f}", ha="center", va="center", fontsize=4.3, color="#c8324a")
ax.axis("off")
step = 121 / 7
for i, col in enumerate(cluster_colors):
    x = 34 + step * (i + .5); y = 651 + step * (i + .5)
    page.scatter([x], [645], s=52, color=col, lw=0)
    t(x, 645, str(i + 1), 6.5, ha="center", color="#222222")
    page.scatter([162], [y], s=52, color=col, lw=0)
    t(162, y, str(i + 1), 6.5, ha="center", color="#222222")
t(168, 763, "(E50)", 6.5, color="#333333")
cb = box(77, 778, 155, 783)
cb.imshow(np.linspace(0, 1, 100).reshape(1, -1), cmap=l_cmap, aspect="auto"); cb.axis("off")
t(86, 788, "0.65", 3.8, ha="center", color="#555555")
t(119, 788, "Pearson Correlation", 3.2, ha="center", color="#555555")
t(155, 788, "1", 3.8, ha="center", color="#555555")

# M
letter(195, 648, "M", 15)
ax = box(231, 651, 349, 774)
ax.scatter(dense_x, dense_y, s=9, color="#b8b8b8", lw=0)
ax.scatter(sparse_x, sparse_y, s=2.5, color="#b0b0b0", lw=0)
ax.scatter(red_x, red_y, s=3, color="#d8262c", lw=0)
ax.scatter(blue_x, blue_y, s=3, color="#2f4fa8", lw=0)
ax.set_xlim(-.45, 12.4); ax.set_ylim(-.65, 12.6)
ax.set_xticks([0, 2.5, 5, 7.5, 10, 12.5]); ax.set_yticks([0, 2.5, 5, 7.5, 10, 12.5])
ax.set_xticklabels(["0.0", "2.5", "5.0", "7.5", "10.0", "12.5"]); ax.set_yticklabels(["0.0", "2.5", "5.0", "7.5", "10.0", "12.5"])
ax.tick_params(labelsize=2.8, length=1, width=.3, pad=.5, colors="#777777")
ax.grid(color="#eeeeee", lw=.4)
ax.set_axisbelow(True)
for sp in ax.spines.values():
    sp.set_color("#aaaaaa"); sp.set_linewidth(.8)
m_label_px = [(167, 222), (188, 243), (200, 265), (220, 285), (208, 332), (318, 274), (309, 300), (403, 254), (366, 331),
              (344, 367), (349, 388), (350, 407), (337, 425), (331, 443), (403, 496), (383, 518), (364, 537), (273, 545)]
for name, (zx, zy), gx, gy in zip(m_genes, m_label_px, m_gene_x, m_gene_y):
    x = zx / 3 + 185; y = zy / 3 + 590
    page.plot([x - 6 if name in m_genes[14:] else x, 235 + gx * 9.3], [y, 768 - gy * 9.3], color="#999999", lw=.35)
    t(x, y, name, 5.2, ha="center", style="italic", color="#222222")
t(238, 657, "402", 5.2, ha="center", weight="bold"); t(340, 768, "274", 5.2, ha="center", weight="bold")
t(288, 637, "abs(Log2 Fold Change) > 1.5", 4.9, ha="center", color="#444444")
t(285, 645, "P-Value < 0.01, FDR < 0.01", 4.9, ha="center", color="#444444")
t(297, 785, "In vivo E50 cjPGCs", 6.6, ha="center", color="#333333")
t(217, 712, "D6 cjPGCLCs", 6.8, ha="center", rotation=90, color="#333333")
t(365, 678, "D6 cjPGCLCs", 6.5, ha="center", rotation=90, color="#333333")
t(365, 748, "In vivo E50 cjPGCs", 6.5, ha="center", rotation=90, color="#333333")
page.plot([370, 370], [651, 707], color="#d0404a", lw=1)
page.plot([370, 370], [719, 783], color="#4060b0", lw=1)
m_lines = [(652, ["b:GO:0051301~cell division"]),
           (663, ["MKI67, TOP2A, CCNF, NCAPG2, KIF14,..."]),
           (673, ["b:GO:0006915~apoptotic process"]),
           (684, ["BAX, BAK1, ARL6IP1, TAF10, CXCR4, SRA1, ..."]),
           (694, ["b:GO:0030036~actin cytoskeleton organization"]),
           (705, ["PDLIM1, GAS2L3, DIAPH3, PDLIM2, PALLD, ..."]),
           (720, ["b:GO:0006357~regulation of transcription from RNA"]),
           (731, ["b:polymerase II promoter"]),
           (741, ["ZNF670, SMARCB1, ZNF470, RNF14, ZNF518A, ..."]),
           (752, ["b:GO:0032868~response to insulin"]),
           (762, ["EGR1, FABP3, GCNT1, ALPL, ..."]),
           (773, ["b:GO:0016567~protein ubiquitination"]),
           (783, ["RNF6, DCAF4, ANKRD9, HERC5, RNF145,..."])]
for y, parts in m_lines:
    go(376, y, *parts)

fig.savefig("out.png", dpi=100)
